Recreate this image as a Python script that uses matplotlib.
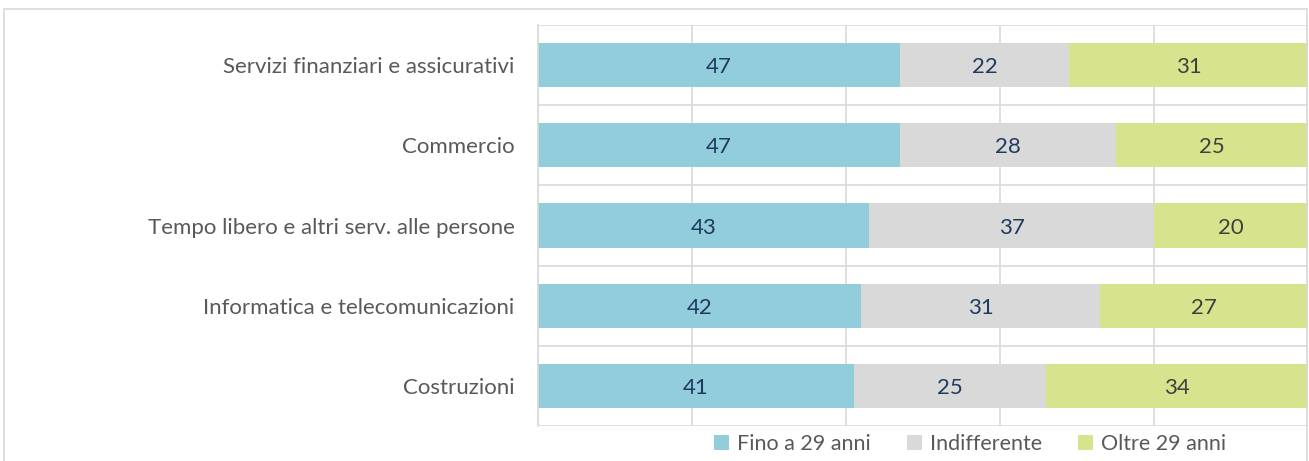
import matplotlib.pyplot as plt
from matplotlib.patches import Rectangle
import numpy as np

plt.rcParams['font.family'] = ['Lato', 'DejaVu Sans']

categories = ['Servizi finanziari e assicurativi', 'Commercio',
              'Tempo libero e altri serv. alle persone',
              'Informatica e telecomunicazioni', 'Costruzioni']
fino_29 = [47, 47, 43, 42, 41]
indifferente = [22, 28, 37, 31, 25]
oltre_29 = [31, 25, 20, 27, 34]
series_names = ['Fino a 29 anni', 'Indifferente', 'Oltre 29 anni']

colors = ['#92CDDC', '#D9D9D9', '#D7E38D']
label_colors = ['#1F3A5F', '#1F3A5F', '#404040']
grid_col = '#D9D9D9'
fs = 16

fig = plt.figure(figsize=(13.09, 4.61), dpi=100)
ax = fig.add_axes([538 / 1309, 1 - 426 / 461, 770 / 1309, 401 / 461])

# outer chart frame
fig.patches.append(Rectangle((4 / 1309, -0.05), 1303 / 1309, 1 - 9 / 461 + 0.05,
                             transform=fig.transFigure, fill=False,
                             edgecolor='#D9D9D9', linewidth=1.2))

y = np.arange(len(categories))
left = np.zeros(len(categories))
for vals, name, c, lc in zip([fino_29, indifferente, oltre_29], series_names, colors, label_colors):
    bars = ax.barh(y, vals, left=left, height=0.55, color=c, label=name, zorder=2)
    texts = ax.bar_label(bars, labels=[str(v) for v in vals], label_type='center',
                         color=lc, fontsize=fs)
    for t in texts:
        t.xyann = (0, -1.5)  # nudge labels down a touch
    left += np.array(vals)

ax.set_xlim(0, 100)
ax.set_ylim(len(categories) - 0.5, -0.5)
ax.set_xticks(np.arange(0, 101, 20))
ax.set_yticks(y)
ax.set_yticklabels(categories, fontsize=fs, color='#595959')
ax.set_yticks(np.arange(-0.5, len(categories)), minor=True)
ax.tick_params(axis='x', length=0, labelbottom=False)
ax.tick_params(axis='y', which='both', length=0, pad=17)
ax.grid(axis='x', color=grid_col, linewidth=1.2, zorder=0)
ax.grid(axis='y', which='minor', color=grid_col, linewidth=1.2, zorder=0)
for s in ['top', 'right', 'bottom']:
    ax.spines[s].set_visible(False)
ax.spines['left'].set_color(grid_col)
ax.spines['left'].set_linewidth(1.2)

fig.legend(loc='center', bbox_to_anchor=(970 / 1309, 1 - 444 / 461), ncol=3,
           frameon=False, fontsize=15.5, handlelength=0.7, handleheight=0.7,
           handletextpad=0.35, columnspacing=1.7, labelcolor='#595959')

fig.savefig('out.png', dpi=100)
